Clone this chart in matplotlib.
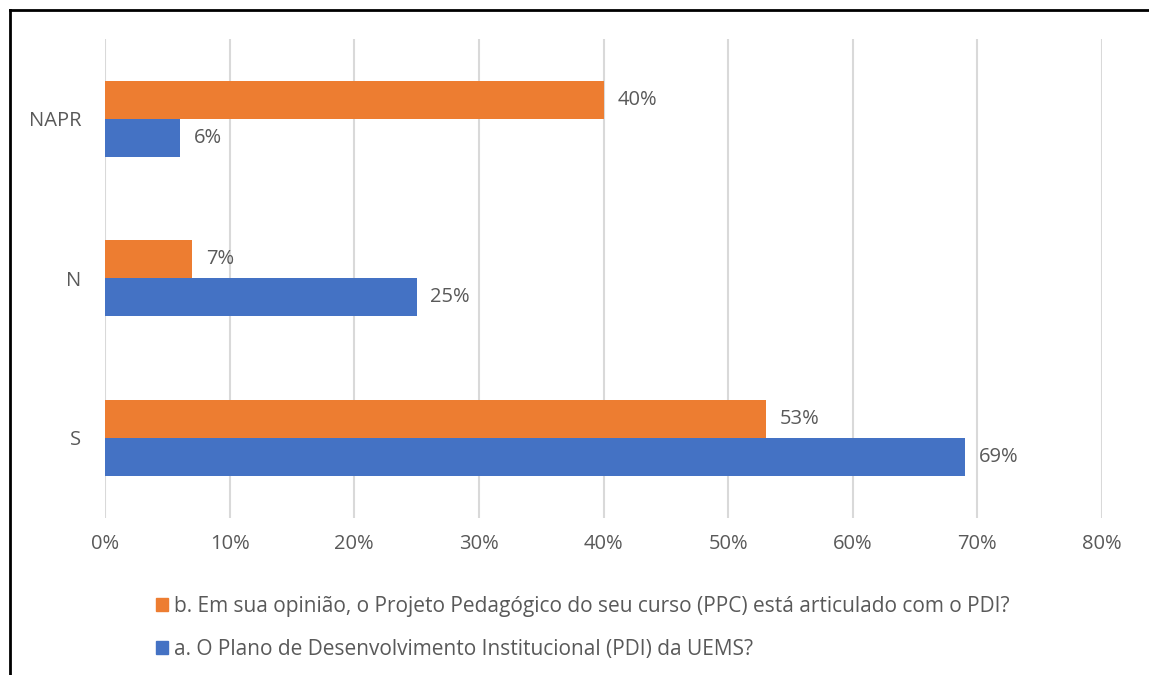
import matplotlib.pyplot as plt
from matplotlib.patches import Patch
from matplotlib.lines import Line2D

categories = ["S", "N", "NAPR"]
series_b = [53, 7, 40]
series_a = [69, 25, 6]
label_b = "b. Em sua opinião, o Projeto Pedagógico do seu curso (PPC) está articulado com o PDI?"
label_a = "a. O Plano de Desenvolvimento Institucional (PDI) da UEMS?"
ticks = [0, 10, 20, 30, 40, 50, 60, 70, 80]

orange = "#ED7D31"
blue = "#4472C4"
gray = "#595959"
fs = 14.5

plt.rcParams['font.family'] = ['Open Sans', 'DejaVu Sans']

fig = plt.figure(figsize=(11.49, 6.75), dpi=100)
ax = fig.add_axes([105 / 1149, 1 - 517.5 / 675, 997 / 1149, 478.5 / 675])

h = 0.238
ypos = list(range(len(categories)))
ax.barh([y + h / 2 for y in ypos], series_b, height=h, color=orange, zorder=3)
ax.barh([y - h / 2 for y in ypos], series_a, height=h, color=blue, zorder=3)

for y, v in zip(ypos, series_b):
    ax.annotate(f"{v}%", (v, y + h / 2), xytext=(10, 0), textcoords="offset points",
                va="center", ha="left", fontsize=fs, color=gray)
for y, v in zip(ypos, series_a):
    ax.annotate(f"{v}%", (v, y - h / 2), xytext=(10, 0), textcoords="offset points",
                va="center", ha="left", fontsize=fs, color=gray)

ax.set_xlim(0, 80)
ax.set_ylim(-0.5, 2.5)
ax.set_xticks(ticks)
ax.set_xticklabels([f"{t}%" for t in ticks])
ax.set_yticks(ypos)
ax.set_yticklabels(categories)
ax.tick_params(length=0, labelsize=fs, colors=gray)
ax.tick_params(axis="x", pad=12)
ax.tick_params(axis="y", pad=17)
ax.grid(axis="x", color="#d9d9d9", linewidth=1.5, zorder=0)
for s in ax.spines.values():
    s.set_visible(False)

handles = [Patch(color=orange, label=label_b), Patch(color=blue, label=label_a)]
fig.legend(handles=handles, loc="upper left", bbox_to_anchor=(137 / 1149, 1 - 577 / 675),
           frameon=False, fontsize=15, labelcolor=gray, handlelength=0.6, handleheight=0.6,
           handletextpad=0.3, labelspacing=1.05)

# outer frame (top and left edges)
fig.add_artist(Line2D([10 / 1149, 10 / 1149], [0, 1 - 10 / 675], color="black", linewidth=2,
                      transform=fig.transFigure))
fig.add_artist(Line2D([10 / 1149, 1], [1 - 10 / 675, 1 - 10 / 675], color="black", linewidth=2,
                      transform=fig.transFigure))

fig.savefig("out.png", dpi=100)
